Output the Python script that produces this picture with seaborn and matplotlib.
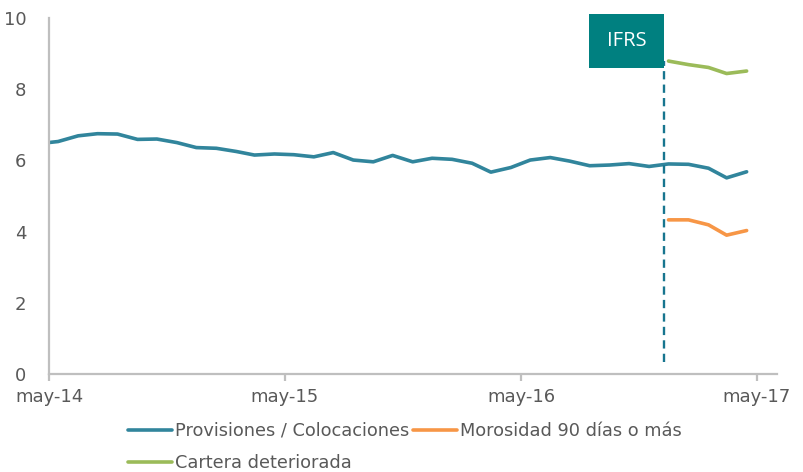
import pandas as pd
import matplotlib.pyplot as plt
import matplotlib.dates as mdates
from matplotlib.lines import Line2D
from matplotlib.patches import Rectangle
import seaborn as sns

sns.set_style("white")
plt.rcParams['font.family'] = ['DejaVu Sans']

# data: monthly series, mid-month points (abr-14 .. abr-17)
fechas = pd.date_range("2014-04-01", periods=37, freq="MS") + pd.Timedelta(days=14)
provisiones = [6.47, 6.53, 6.69, 6.75, 6.74, 6.59, 6.60, 6.50, 6.36,
               6.34, 6.25, 6.15, 6.18, 6.16, 6.10, 6.22, 6.01, 5.96, 6.14, 5.96, 6.06,
               6.03, 5.92, 5.67, 5.80, 6.01, 6.08, 5.98, 5.85, 5.87, 5.91, 5.83, 5.90,
               5.89, 5.78, 5.51, 5.68]
fechas_ifrs = fechas[-5:]
morosidad = [4.33, 4.33, 4.19, 3.90, 4.03]
cartera = [8.79, 8.69, 8.61, 8.44, 8.51]

series = ["Provisiones / Colocaciones", "Morosidad 90 días o más", "Cartera deteriorada"]
colores = ["#31859C", "#F79646", "#9BBB59"]
fecha_ifrs = pd.Timestamp("2016-12-08")
ticks = pd.to_datetime(["2014-05-01", "2015-05-01", "2016-05-01", "2017-05-01"])
tick_labels = ["may-14", "may-15", "may-16", "may-17"]

df = pd.concat([
    pd.DataFrame({"fecha": fechas, "valor": provisiones, "serie": series[0]}),
    pd.DataFrame({"fecha": fechas_ifrs, "valor": morosidad, "serie": series[1]}),
    pd.DataFrame({"fecha": fechas_ifrs, "valor": cartera, "serie": series[2]}),
])

fig = plt.figure(figsize=(8.04, 4.72), dpi=100)
ax = fig.add_axes([0.061, 0.2076, 0.9054, 0.7543])

sns.lineplot(data=df, x="fecha", y="valor", hue="serie", hue_order=series,
             palette=colores, linewidth=2.6, ax=ax, legend=False)

# IFRS marker
ax.vlines(fecha_ifrs, 0.35, 8.8, colors="#17758F", linewidth=1.7,
          linestyles=(0, (3.5, 2.2)))
x_ifrs = mdates.date2num(fecha_ifrs)
trans = ax.get_xaxis_transform()
ax.add_patch(Rectangle((x_ifrs - 116, 0.860), 116, 0.151, transform=trans,
                       facecolor="#008080", edgecolor="none", clip_on=False, zorder=5))
ax.text(x_ifrs - 58, 0.935, "IFRS", transform=trans, ha="center", va="center",
        color="white", fontsize=14.5, family=["Open Sans", "DejaVu Sans"], zorder=6)

ax.set_xlim(pd.Timestamp("2014-05-01"), pd.Timestamp("2017-06-01"))
ax.set_ylim(0, 10)
ax.set_yticks([0, 2, 4, 6, 8, 10])
ax.set_xticks(ticks)
ax.set_xticklabels(tick_labels)
ax.set_xlabel("")
ax.set_ylabel("")

for s in ["top", "right"]:
    ax.spines[s].set_visible(False)
for s in ["left", "bottom"]:
    ax.spines[s].set_color("#BFBFBF")
    ax.spines[s].set_linewidth(1.6)
ax.tick_params(axis="y", left=False, pad=13, labelsize=13, labelcolor="#595959")
ax.tick_params(axis="x", bottom=True, length=5, width=1.6, color="#BFBFBF",
               direction="out", pad=5, labelsize=13, labelcolor="#595959")

# legend row-major: reorder for column fill
handles = [Line2D([], [], color=c, linewidth=2.6) for c in colores]
orden = [0, 2, 1]
fig.legend([handles[i] for i in orden], [series[i] for i in orden],
           loc="upper left", bbox_to_anchor=(0.159, 0.106), ncol=2, frameon=False,
           fontsize=12.8, labelcolor="#595959", handlelength=2.5, handletextpad=0.15,
           columnspacing=0.2, labelspacing=0.8, borderpad=0, borderaxespad=0)

plt.savefig("out.png", dpi=100)
